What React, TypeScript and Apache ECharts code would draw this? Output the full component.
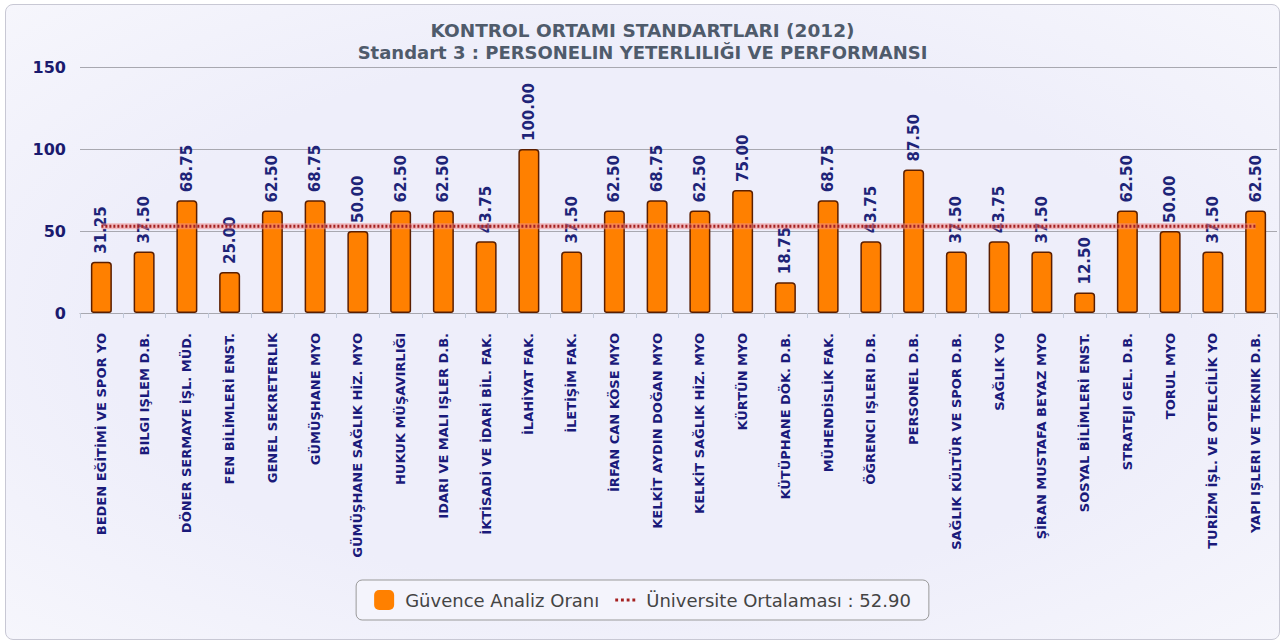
import React, { useEffect, useRef } from "react";
import * as echarts from "echarts";

const titleLine1 = "KONTROL ORTAMI STANDARTLARI (2012)";
const titleLine2 = "Standart 3 : PERSONELIN YETERLILIĞI VE PERFORMANSI";

const categories = [
  "BEDEN EĞİTİMİ VE SPOR YO",
  "BILGI IŞLEM D.B.",
  "DÖNER SERMAYE İŞL. MÜD.",
  "FEN BİLİMLERİ ENST.",
  "GENEL SEKRETERLIK",
  "GÜMÜŞHANE MYO",
  "GÜMÜŞHANE SAĞLIK HİZ. MYO",
  "HUKUK MÜŞAVIRLIĞI",
  "IDARI VE MALI IŞLER D.B.",
  "İKTİSADİ VE İDARİ BİL. FAK.",
  "İLAHİYAT FAK.",
  "İLETİŞİM FAK.",
  "İRFAN CAN KÖSE MYO",
  "KELKİT AYDIN DOĞAN MYO",
  "KELKİT SAĞLIK HİZ. MYO",
  "KÜRTÜN MYO",
  "KÜTÜPHANE DÖK. D.B.",
  "MÜHENDİSLİK FAK.",
  "ÖĞRENCI IŞLERI D.B.",
  "PERSONEL D.B.",
  "SAĞLIK KÜLTÜR VE SPOR D.B.",
  "SAĞLIK YO",
  "ŞİRAN MUSTAFA BEYAZ MYO",
  "SOSYAL BİLİMLERİ ENST.",
  "STRATEJI GEL. D.B.",
  "TORUL MYO",
  "TURİZM İŞL. VE OTELCİLİK YO",
  "YAPI IŞLERI VE TEKNIK D.B.",
];

const values = [
  31.25, 37.5, 68.75, 25.0, 62.5, 68.75, 50.0, 62.5, 62.5, 43.75, 100.0, 37.5,
  62.5, 68.75, 62.5, 75.0, 18.75, 68.75, 43.75, 87.5, 37.5, 43.75, 37.5, 12.5,
  62.5, 50.0, 37.5, 62.5,
];

const averageValue = 52.9;
const barSeriesName = "Güvence Analiz Oranı";
const lineSeriesName = "Üniversite Ortalaması : 52.90";
const yMin = 0;
const yMax = 150;
const yInterval = 50;

export default function App() {
  const ref = useRef<HTMLDivElement>(null);

  useEffect(() => {
    const chart = echarts.init(ref.current!, undefined, { renderer: "svg" });
    const font = "'DejaVu Sans', Verdana, sans-serif";
    const avgData = categories.map(() => averageValue);
    chart.setOption({
      animation: false,
      textStyle: { fontFamily: font },
      title: [
        {
          text: titleLine1,
          left: "center",
          top: 16,
          textStyle: { color: "#4f5b6b", fontSize: 18.5, fontWeight: "bold", fontFamily: font },
        },
        {
          text: titleLine2,
          left: "center",
          top: 38,
          textStyle: { color: "#4f5b6b", fontSize: 18, fontWeight: "bold", fontFamily: font },
        },
      ],
      grid: { left: 80, right: 8, top: 67, bottom: 329, containLabel: false },
      legend: {
        bottom: 22,
        left: "center",
        orient: "horizontal",
        borderColor: "#999",
        borderWidth: 1,
        borderRadius: 6,
        padding: [10, 18],
        backgroundColor: "#f4f4fc",
        itemWidth: 20,
        itemHeight: 20,
        itemGap: 16,
        textStyle: { fontSize: 18, color: "#444", fontFamily: font, padding: [0, 0, 0, 6] },
        data: [
          { name: barSeriesName, icon: "roundRect", itemStyle: { color: "#ff8000", borderWidth: 0 } },
          {
            name: lineSeriesName,
            icon: "path://M0,0h2v2h-2z M4,0h2v2h-2z M8,0h2v2h-2z M12,0h2v2h-2z",
            itemStyle: { color: "#a52020" },
          },
        ],
      },
      xAxis: {
        type: "category",
        data: categories,
        axisLine: { lineStyle: { color: "#a8a8b0" } },
        axisTick: { show: true, length: 5, lineStyle: { color: "#c0c8d8" } },
        axisLabel: {
          interval: 0,
          rotate: 90,
          margin: 20,
          fontSize: 13,
          fontWeight: "bold",
          color: "#1a1a7a",
          fontFamily: font,
        },
      },
      yAxis: {
        type: "value",
        min: yMin,
        max: yMax,
        interval: yInterval,
        axisLine: { show: false },
        axisTick: { show: false },
        splitLine: { lineStyle: { color: "#a8a8b0" } },
        axisLabel: {
          fontSize: 16,
          fontWeight: "bold",
          color: "#1a1a6e",
          margin: 14,
          fontFamily: font,
        },
      },
      series: [
        {
          name: barSeriesName,
          type: "bar",
          data: values,
          barWidth: 21,
          itemStyle: {
            color: "#ff8000",
            borderColor: "#5a1e00",
            borderWidth: 1.5,
            borderRadius: [3, 3, 2, 2],
          },
          label: {
            show: true,
            position: "top",
            rotate: 90,
            align: "left",
            verticalAlign: "middle",
            distance: 8,
            formatter: (p: any) => Number(p.value).toFixed(2),
            color: "#1e2478",
            fontSize: 15,
            fontWeight: "bold",
            fontFamily: font,
          },
        },
        {
          name: "glow",
          type: "line",
          data: avgData,
          symbol: "none",
          showSymbol: false,
          silent: true,
          z: 4,
          lineStyle: { color: "rgba(240,140,140,0.55)", width: 6, type: "solid" },
        },
        {
          name: lineSeriesName,
          type: "line",
          data: avgData,
          symbol: "none",
          showSymbol: false,
          z: 5,
          itemStyle: { color: "#a52020" },
          lineStyle: { color: "#a52020", width: 3, type: [2, 2] },
        },
      ],
    });
    return () => chart.dispose();
  }, []);

  return (
    <div style={{ position: "fixed", left: 0, top: 0, width: 1285, height: 642, background: "#ffffff" }}>
      <div
        style={{
          position: "absolute",
          left: 5,
          top: 4,
          width: 1273,
          height: 634,
          border: "1px solid #c8c8d4",
          borderRadius: 8,
          background: "radial-gradient(ellipse at center, #eeeefa 60%, #f6f6fc 100%)",
        }}
      />
      <div ref={ref} style={{ position: "absolute", left: 0, top: 0, width: 1285, height: 642 }} />
    </div>
  );
}
